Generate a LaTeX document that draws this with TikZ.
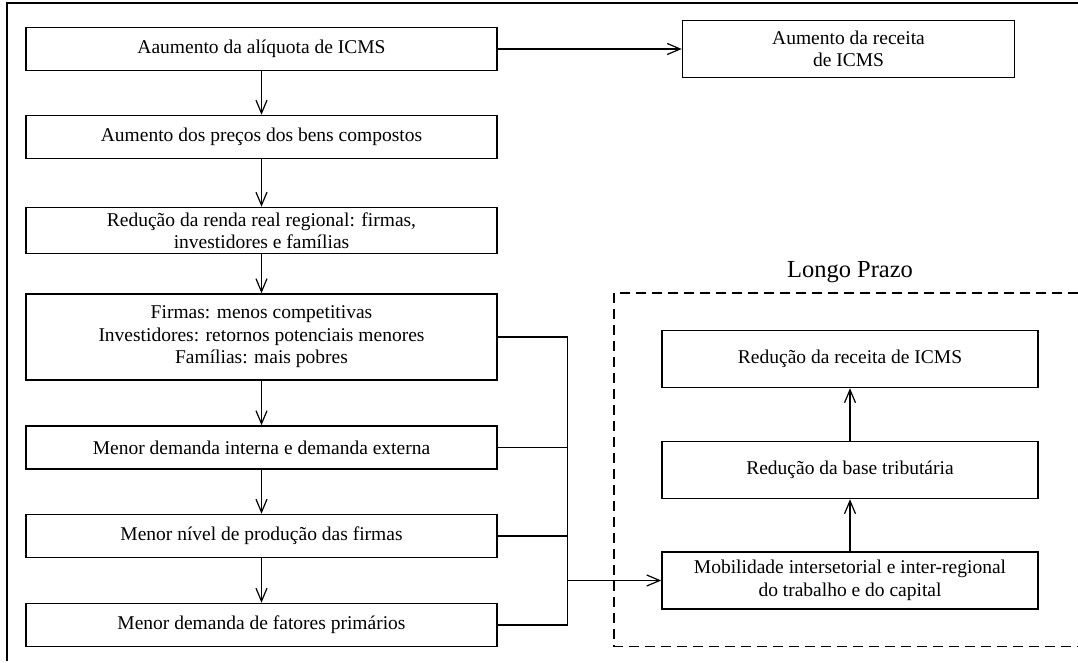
\documentclass[tikz,border=0pt]{standalone}
\usepackage{fontspec}
\setmainfont{Liberation Serif}
\usetikzlibrary{positioning,arrows.meta}

\tikzset{
	box/.style={draw, rectangle, line width=1.5pt, align=center, inner sep=0pt,
		minimum width=471pt, minimum height=43pt, font=\fontsize{19.5}{22.5}\selectfont},
	rbox/.style={box, minimum width=376pt, minimum height=57pt},
}

\begin{document}
\begin{tikzpicture}[x=1pt,y=-1pt,on grid,line width=1.2pt,>={Straight Barb[length=13pt,width=11pt]}]
		\useasboundingbox (0,0) rectangle (1078,663);
		\draw[line width=2.2pt] (1078,3) -- (7,3) -- (7,661);
		
		\node[box] (b1) at (261.5,49) {Aaumento da alíquota de ICMS};
		\node[box] (b2) [below=88pt of b1] {Aumento dos preços dos bens compostos};
		\node[box, minimum height=46pt] (b3) [below=93.5pt of b2] {Redução da renda real regional: firmas,\\investidores e famílias};
		\node[box, minimum height=86pt] (b4) [below=106.5pt of b3] {Firmas: menos competitivas\\Investidores: retornos potenciais menores\\Famílias: mais pobres};
		\node[box] (b5) [below=110.5pt of b4] {Menor demanda interna e demanda externa};
		\node[box] (b6) [below=88.5pt of b5] {Menor nível de produção das firmas};
		\node[box] (b7) [below=89pt of b6] {Menor demanda de fatores primários};
		
		\node[box, minimum width=332pt, minimum height=57pt] (rev) [right=587pt of b1] {Aumento da receita\\de ICMS};
		
		% longo prazo
		\node[rbox] (rec) at (850,359) {Redução da receita de ICMS};
		\node[rbox] (base) [below=111pt of rec] {Redução da base tributária};
		\node[rbox] (mob) [below=110.5pt of base] {Mobilidade intersetorial e inter-regional\\do trabalho e do capital};
		\node[font=\fontsize{24.5}{28}\selectfont] (lp) [above=87pt of rec] {Longo Prazo};
		\draw[dash pattern=on 10pt off 6pt, line width=1.3pt] (1078,293) -- (614,293) -- (614,646.5) -- (1078,646.5);
		
		\path[->]	(b1)	edge	(b2)
		edge	(rev)
		(b2)	edge	(b3)
		(b3)	edge	(b4)
		(b4)	edge	(b5)
		(b5)	edge	(b6)
		(b6)	edge	(b7)
		(mob)	edge	(base)
		(base)	edge	(rec);
		
		\coordinate (bus) at ([xshift=70pt]b4.east);
		\draw (b4.east) -- (bus) -- (bus |- b7.east) -- (b7.east);
		\draw (b5.east) -- (bus |- b5.east);
		\draw (b6.east) -- (bus |- b6.east);
		\draw[->] (bus |- mob.west) -- (mob.west);
	\end{tikzpicture}
\end{document}
